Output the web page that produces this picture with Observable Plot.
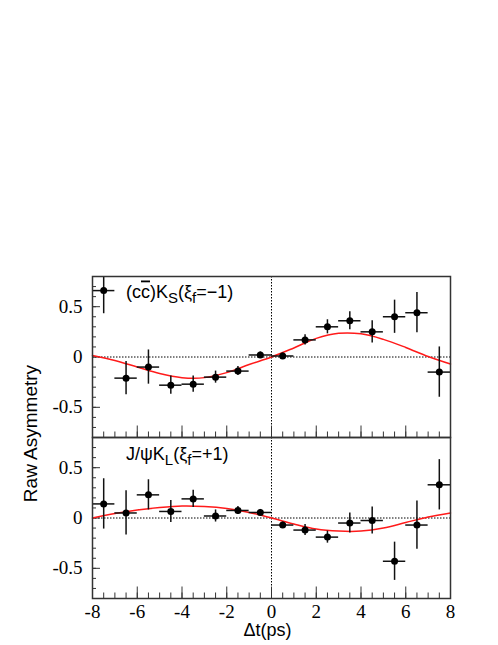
<!DOCTYPE html>
<html><head><meta charset="utf-8">
<script src="https://cdn.jsdelivr.net/npm/d3@7"></script>
<script src="https://cdn.jsdelivr.net/npm/@observablehq/plot@0.6"></script>
<style>body{margin:0;background:#fff}</style>
</head><body><div id="chart"></div>
<script>
// ---- data ----
const panels = ["top", "bottom"];
const binCenters = [-7.5,-6.5,-5.5,-4.5,-3.5,-2.5,-1.5,-0.5,0.5,1.5,2.5,3.5,4.5,5.5,6.5,7.5];
const binHalfWidth = 0.5;
const topValues    = [0.66,-0.21,-0.10,-0.28,-0.27,-0.20,-0.14,0.02,0.01,0.17,0.30,0.36,0.25,0.40,0.44,-0.15];
const topErrors    = [0.23,0.165,0.17,0.09,0.08,0.06,0.045,0.03,0.03,0.05,0.07,0.09,0.11,0.165,0.20,0.25];
const bottomValues = [0.14,0.05,0.23,0.065,0.19,0.02,0.075,0.055,-0.07,-0.12,-0.19,-0.05,-0.025,-0.43,-0.07,0.33];
const bottomErrors = [0.25,0.22,0.15,0.11,0.085,0.06,0.04,0.03,0.03,0.055,0.06,0.10,0.135,0.19,0.24,0.25];
const curveT       = [-8,-7,-6,-5,-4,-3,-2,-1,0,1,2,3,4,5,6,7,8];
const topCurve     = [0.015,-0.035,-0.10,-0.165,-0.205,-0.205,-0.155,-0.075,0.0,0.09,0.185,0.235,0.23,0.175,0.095,0.005,-0.07];
const bottomCurve  = [0.0,0.045,0.08,0.105,0.12,0.115,0.095,0.055,0.0,-0.06,-0.11,-0.13,-0.13,-0.10,-0.045,0.01,0.05];
const xTickLabels  = [-8,-6,-4,-2,0,2,4,6,8];
const yTickLabels  = [-0.5,0,0.5];
const xDomain = [-8, 8];
const yDomain = [-0.8, 0.8];
const yTitle = "Raw Asymmetry";
const xTitle = "\u0394t(ps)";

// ---- tables ----
const points = [];
binCenters.forEach((t, i) => {
  points.push({panel: "top", t, v: topValues[i], e: topErrors[i]});
  points.push({panel: "bottom", t, v: bottomValues[i], e: bottomErrors[i]});
});
const curves = [];
curveT.forEach((t, i) => {
  curves.push({panel: "top", t, v: topCurve[i]});
  curves.push({panel: "bottom", t, v: bottomCurve[i]});
});
const xMinor = d3.range(-8, 8.001, 0.5);
const xMajor = d3.range(-8, 8.001, 2);
const yMinor = d3.range(-0.8, 0.8001, 0.1).map(d => Math.round(d * 10) / 10);

const W = 498, H = 645, mT = 275, mB = 47, mL = 92, mR = 48;
const panelH = (H - mT - mB) / 2;
const frameW = W - mL - mR;
const serif = "'Liberation Serif', 'Times New Roman', serif";
const sans = "'Liberation Sans', Arial, Helvetica, sans-serif";

const plot = Plot.plot({
  width: W, height: H,
  marginTop: mT, marginBottom: mB, marginLeft: mL, marginRight: mR,
  style: {fontFamily: serif, fontSize: "19px", background: "white", color: "black"},
  x: {domain: xDomain, axis: null, label: null},
  y: {domain: yDomain, axis: null, label: null},
  fy: {domain: panels, axis: null, padding: 0, label: null},
  marks: [
    Plot.ruleY([0], {stroke: "black", strokeWidth: 1, strokeDasharray: "1.5,1.5"}),
    Plot.ruleX([0], {stroke: "black", strokeWidth: 1, strokeDasharray: "1.5,1.5"}),
    Plot.tickX(xMinor, {x: d => d, insetTop: panelH - 6, stroke: "#333", strokeWidth: 1}),
    Plot.tickX(xMajor, {x: d => d, insetTop: panelH - 12, stroke: "#333", strokeWidth: 1}),
    Plot.tickY(yMinor, {y: d => d, insetRight: frameW - 4, stroke: "#333", strokeWidth: 1}),
    Plot.tickY(yTickLabels, {y: d => d, insetRight: frameW - 8, stroke: "#333", strokeWidth: 1}),
    Plot.line(curves, {x: "t", y: "v", fy: "panel", stroke: "#ff1a1a", strokeWidth: 1.5, curve: "catmull-rom"}),
    Plot.ruleX(points, {x: "t", y1: d => d.v - d.e, y2: d => d.v + d.e, fy: "panel", stroke: "#111", strokeWidth: 1.5, clip: true}),
    Plot.ruleY(points, {y: "v", x1: d => d.t - binHalfWidth, x2: d => d.t + binHalfWidth, fy: "panel", stroke: "#111", strokeWidth: 1.5}),
    Plot.dot(points, {x: "t", y: "v", fy: "panel", r: 3.5, fill: "black", stroke: "none"}),
    Plot.frame({stroke: "#333", strokeWidth: 1.5}),
    Plot.axisY(yTickLabels, {tickSize: 0, tickPadding: 10, tickFormat: d => String(d), fontSize: 19, fontFamily: serif, label: null}),
    Plot.axisX(xTickLabels, {tickSize: 0, tickPadding: 6, tickFormat: d => String(d), fontSize: 19, fontFamily: serif, label: null})
  ]
});
document.getElementById("chart").appendChild(plot);

// ---- titles and panel annotations (real text) ----
const svg = d3.select(plot);
svg.append("text").attr("transform", `translate(37,${mT + panelH - 3})rotate(-90)`)
  .attr("text-anchor", "middle").attr("font-family", sans).attr("font-size", 19).attr("fill", "black").text(yTitle);
svg.append("text").attr("x", 267.5).attr("y", 636)
  .attr("text-anchor", "middle").attr("font-family", sans).attr("font-size", 18).attr("fill", "black").text(xTitle);

function addLabel(x, y, parts) {
  const t = svg.append("text").attr("x", x).attr("y", y).attr("text-anchor", "start")
    .attr("font-family", sans).attr("font-size", 18).attr("fill", "black");
  parts.forEach(p => {
    const s = t.append("tspan").text(p.text);
    if (p.dy) s.attr("dy", p.dy);
    if (p.size) s.attr("font-size", p.size);
    if (p.over) s.style("text-decoration", "overline");
  });
}
const topLabel = [
  {text: "(c"}, {text: "c", over: true}, {text: ")K"},
  {text: "S", size: 15, dy: 5}, {text: "(\u03be", dy: -5},
  {text: "f", size: 15, dy: 5}, {text: "=\u22121)", dy: -5}
];
const bottomLabel = [
  {text: "J/\u03c8K"},
  {text: "L", size: 15, dy: 5}, {text: "(\u03be", dy: -5},
  {text: "f", size: 15, dy: 5}, {text: "=+1)", dy: -5}
];
addLabel(126, mT + 22.5, topLabel);
addLabel(126, mT + panelH + 23.5, bottomLabel);
</script>
</body></html>
